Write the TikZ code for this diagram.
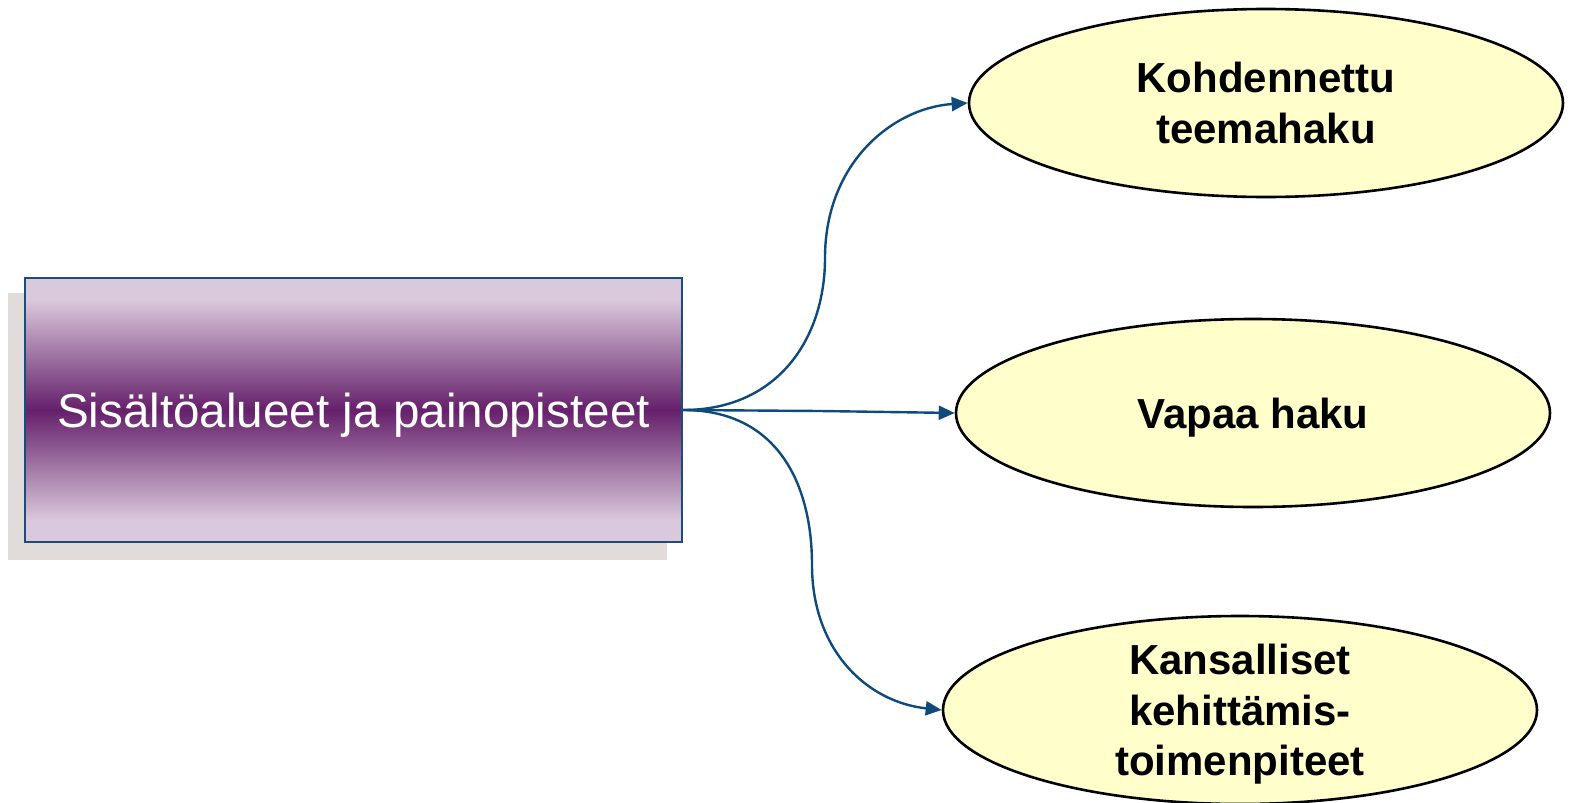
\documentclass[tikz,border=0pt]{standalone}
\usepackage{fontspec}
\setmainfont{Liberation Sans}
\usetikzlibrary{shapes.geometric,arrows.meta}
\definecolor{lightp}{HTML}{DAC9DC}
\definecolor{darkp}{HTML}{65206B}
\definecolor{boxborder}{HTML}{1B4D7A}
\definecolor{arrowblue}{HTML}{0E4A7C}
\definecolor{shadowgray}{HTML}{E1DCD9}
\definecolor{ellfill}{HTML}{FFFFCC}
\pgfdeclareverticalshading{purpband}{100bp}{color(0bp)=(lightp); color(29bp)=(lightp); color(50bp)=(darkp); color(71bp)=(lightp); color(100bp)=(lightp)}
\tikzset{
  mainbox/.style={rectangle, draw=boxborder, line width=1.2pt, shading=purpband,
    minimum width=328.5pt, minimum height=132pt, inner sep=0pt, text depth=0pt,
    text=white, font=\fontsize{23.8}{28}\selectfont},
  shadowbox/.style={rectangle, fill=shadowgray, minimum width=329.5pt, minimum height=133.5pt, inner sep=0pt},
  goal/.style={ellipse, draw=black, line width=1.3pt, fill=ellfill,
    minimum width=297pt, minimum height=94pt, inner sep=0pt, align=center, text depth=0pt,
    font=\fontsize{21}{25.3}\selectfont\bfseries},
  conn/.style={draw=arrowblue, line width=1.2pt, -{Triangle[length=8pt,width=7pt]}}
}
\begin{document}
\begin{tikzpicture}[x=0.5pt,y=-0.5pt]
\useasboundingbox (0,0) rectangle (1569,803);
\node[shadowbox] (shadow) at (337.5,426.5) {};
\node[mainbox] (box) at (353.5,410) {Sisältöalueet ja painopisteet};
\node[goal] (e1) at (1266,103) {Kohdennettu\\teemahaku};
\node[goal] (e2) at (1253,413) {Vapaa haku};
\node[goal] (e3) at (1240,710) {Kansalliset\\kehittämis-\\toimenpiteet};
\coordinate (m1) at (825,258);
\coordinate (m2) at (820,411);
\coordinate (m3) at (812,565);
\draw[conn] (box.east) .. controls +(95,0) and +(0,80) .. (m1) .. controls +(0,-95) and +(-75,5) .. (e1.west);
\draw[conn] (box.east) -- (m2) -- (e2.west);
\draw[conn] (box.east) .. controls +(95,0) and +(0,-80) .. (m3) .. controls +(0,85) and +(-75,-8) .. (e3.west);
\end{tikzpicture}
\end{document}
